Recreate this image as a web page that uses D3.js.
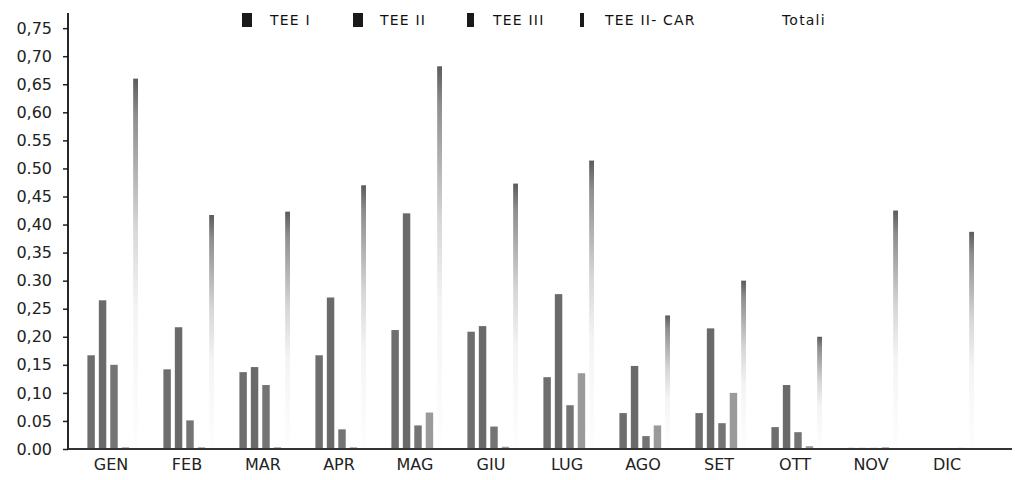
<!DOCTYPE html>
<meta charset="utf-8">
<style>
body { margin: 0; background: #fff; }

.axis text {
  font: 16px "DejaVu Sans", sans-serif;
  fill: #222;
}

.legend text {
  font: 14px "DejaVu Sans", sans-serif;
  letter-spacing: 1.2px;
  fill: #111;
}
</style>
<body>
<script src="https://cdn.jsdelivr.net/npm/d3@7"></script>
<script>

// data
var months = ["GEN", "FEB", "MAR", "APR", "MAG", "GIU", "LUG", "AGO", "SET", "OTT", "NOV", "DIC"];
var series = ["TEE I", "TEE II", "TEE III", "TEE II- CAR", "Totali"];

var tee1   = [0.167, 0.142, 0.137, 0.167, 0.212, 0.209, 0.128, 0.064, 0.064, 0.039, 0.002, 0.001];
var tee2   = [0.265, 0.217, 0.146, 0.270, 0.420, 0.219, 0.276, 0.148, 0.215, 0.114, 0.002, 0.001];
var tee3   = [0.150, 0.051, 0.114, 0.035, 0.042, 0.040, 0.078, 0.023, 0.046, 0.030, 0.002, 0.001];
var teeCar = [0.003, 0.003, 0.003, 0.003, 0.065, 0.004, 0.135, 0.042, 0.100, 0.005, 0.003, 0.002];
var totali = [0.660, 0.417, 0.423, 0.470, 0.682, 0.473, 0.514, 0.238, 0.300, 0.200, 0.425, 0.387];

var yTicks = [0, 0.05, 0.10, 0.15, 0.20, 0.25, 0.30, 0.35, 0.40, 0.45, 0.50, 0.55, 0.60, 0.65, 0.70, 0.75];
var yTickLabels = ["0.00", "0.05", "0,10", "0,15", "0,20", "0,25", "0.30", "0,35", "0,40", "0,45",
                   "0.50", "0.55", "0,60", "0,65", "0,70", "0,75"];

var values = [tee1, tee2, tee3, teeCar, totali];

var width = 1015, height = 480;

var svg = d3.select("body").append("svg")
    .attr("width", width)
    .attr("height", height);

// scales
var x0 = d3.scaleBand()
    .domain(months)
    .range([76, 988])
    .paddingInner(0.3)
    .paddingOuter(0.15);

var x1 = d3.scaleBand()
    .domain(series)
    .range([0, x0.bandwidth()])
    .paddingInner(0.35)
    .paddingOuter(0);

var y = d3.scaleLinear()
    .domain([0, 0.777])
    .range([449, 13]);

var z = d3.scaleOrdinal()
    .domain(series)
    .range(["#6e6e6e", "#6a6a6a", "#747474", "#9a9a9a", "url(#fade)"]);

// totali bars are faded in the scan: dark top, washing out below
var grad = svg.append("defs").append("linearGradient")
    .attr("id", "fade")
    .attr("x1", 0).attr("y1", 0).attr("x2", 0).attr("y2", 1);
grad.append("stop").attr("offset", "0%").attr("stop-color", "#5c5c5c");
grad.append("stop").attr("offset", "10%").attr("stop-color", "#8e8e8e");
grad.append("stop").attr("offset", "40%").attr("stop-color", "#d6d6d6");
grad.append("stop").attr("offset", "62%").attr("stop-color", "#f4f4f4");
grad.append("stop").attr("offset", "100%").attr("stop-color", "#fefefe");

var rows = [];
months.forEach(function(m, i) {
  series.forEach(function(s, j) {
    rows.push({month: m, key: s, value: values[j][i]});
  });
});

// totali bars look thinner than the others
function barWidth(d) {
  return d.key == "Totali" ? x1.bandwidth() * 0.65 : x1.bandwidth();
}

svg.append("g")
  .selectAll("rect")
  .data(rows)
  .enter().append("rect")
    .attr("x", function(d) { return x0(d.month) + x1(d.key); })
    .attr("y", function(d) { return y(d.value); })
    .attr("width", barWidth)
    .attr("height", function(d) { return y(0) - y(d.value); })
    .attr("fill", function(d) { return z(d.key); });

// y axis
var yAxis = svg.append("g")
    .attr("class", "axis")
    .attr("transform", "translate(68,0)")
    .call(d3.axisLeft(y)
        .tickValues(yTicks)
        .tickSize(5)
        .tickPadding(11)
        .tickFormat(function(d, i) { return yTickLabels[i]; }));

yAxis.select(".domain").remove();
yAxis.selectAll(".tick line").attr("stroke", "#222").attr("stroke-width", 1.5);

svg.append("line")
    .attr("x1", 68).attr("x2", 68)
    .attr("y1", y(0.777)).attr("y2", y(0) + 1)
    .attr("stroke", "#111")
    .attr("stroke-width", 1.8);

// x axis
var xAxis = svg.append("g")
    .attr("class", "axis")
    .attr("transform", "translate(-3," + y(0) + ")")
    .call(d3.axisBottom(x0).tickSize(0).tickPadding(10));

xAxis.select(".domain").remove();

svg.append("line")
    .attr("x1", 68).attr("x2", 1012)
    .attr("y1", y(0)).attr("y2", y(0))
    .attr("stroke", "#333")
    .attr("stroke-width", 2);

// legend
var legendX = [242, 353, 467, 580, 694];
var textX = [28, 27, 26, 25, 88];

var legend = svg.append("g")
    .attr("class", "legend")
  .selectAll("g")
  .data(series)
  .enter().append("g")
    .attr("transform", function(d, i) { return "translate(" + legendX[i] + ",0)"; });

legend.append("rect")
    .attr("x", 0)
    .attr("y", 13)
    .attr("width", function(d, i) { return i < 2 ? 10 : (i == 2 ? 7 : 4); })
    .attr("height", 14)
    .attr("fill", function(d, i) { return i < 4 ? "#1a1a1a" : "none"; });

legend.append("text")
    .attr("x", function(d, i) { return textX[i]; })
    .attr("y", 20)
    .attr("dy", "0.35em")
    .text(function(d) { return d; });

</script>
</body>
